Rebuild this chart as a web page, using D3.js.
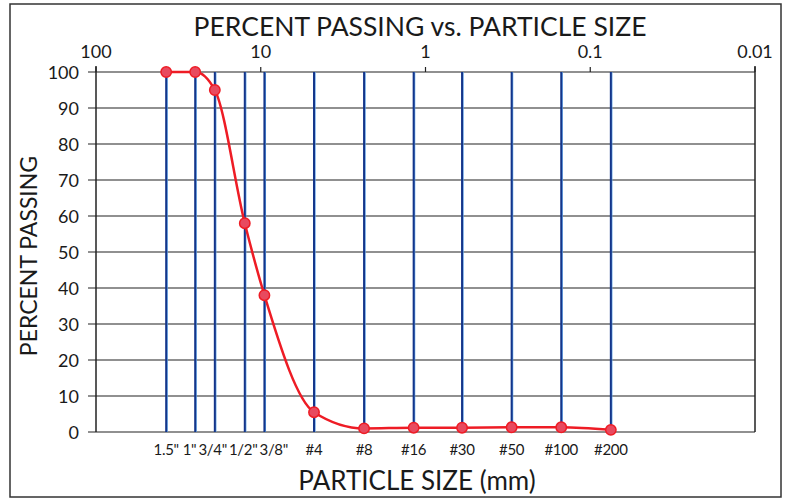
<!DOCTYPE html>
<html><head><meta charset="utf-8">
<script src="https://cdn.jsdelivr.net/npm/d3@7"></script>
<style>body{margin:0;background:#fff}svg{display:block}text{font-family:Lato,"Open Sans",sans-serif;fill:#1a1a1a}</style>
</head><body><svg id="c" width="785" height="500"></svg>
<script>
const sieveLabels = ['1.5"', '1"', '3/4"', '1/2"', '3/8"', '#4', '#8', '#16', '#30', '#50', '#100', '#200'];
const sieveSizes = [37.5, 25, 19, 12.5, 9.5, 4.75, 2.36, 1.18, 0.6, 0.3, 0.15, 0.075];
const percentPassing = [100, 100, 95, 58, 38, 5.5, 1.0, 1.2, 1.2, 1.3, 1.3, 0.6];
const topTicks = [100, 10, 1, 0.1, 0.01];
const topTickLabels = ['100', '10', '1', '0.1', '0.01'];
const yTicks = [0, 10, 20, 30, 40, 50, 60, 70, 80, 90, 100];

const svg = d3.select('#c');
const L = 96, R = 755, T = 72, B = 432;
const x = d3.scaleLog().domain([100, 0.01]).range([L, R]);
const y = d3.scaleLinear().domain([0, 100]).range([B, T]);

svg.append('rect').attr('x', 10).attr('y', 4).attr('width', 771).attr('height', 493)
  .attr('fill', 'none').attr('stroke', '#333').attr('stroke-width', 1.5);

const g = svg.append('g');
g.selectAll('line.h').data(yTicks).join('line')
  .attr('x1', L - 8).attr('x2', R).attr('y1', d => y(d)).attr('y2', d => y(d))
  .attr('stroke', '#222').attr('stroke-width', 1.2);
g.append('line').attr('x1', L).attr('x2', L).attr('y1', T - 6).attr('y2', B).attr('stroke', '#222').attr('stroke-width', 1.5);
g.append('line').attr('x1', R).attr('x2', R).attr('y1', T - 6).attr('y2', B).attr('stroke', '#222').attr('stroke-width', 1.5);
g.selectAll('line.t').data(topTicks).join('line')
  .attr('x1', d => x(d)).attr('x2', d => x(d)).attr('y1', T - 5).attr('y2', T)
  .attr('stroke', '#222').attr('stroke-width', 1.2);
g.selectAll('text.t').data(topTicks).join('text')
  .attr('x', d => x(d)).attr('y', 58).attr('text-anchor', 'middle')
  .attr('font-size', 18).text((d, i) => topTickLabels[i]);
g.selectAll('text.y').data(yTicks).join('text')
  .attr('x', 79).attr('y', d => y(d) + 6.5).attr('text-anchor', 'end')
  .attr('font-size', 18).text(d => d);

const sieves = sieveSizes.map((s, i) => ({s, lab: sieveLabels[i], p: percentPassing[i]}));
g.selectAll('line.s1').data(sieves).join('line')
  .attr('x1', d => x(d.s) + 1).attr('x2', d => x(d.s) + 1).attr('y1', T).attr('y2', B)
  .attr('stroke', '#5aa0e6').attr('stroke-width', 1.2);
g.selectAll('line.s').data(sieves).join('line')
  .attr('x1', d => x(d.s)).attr('x2', d => x(d.s)).attr('y1', T).attr('y2', B)
  .attr('stroke', '#14358a').attr('stroke-width', 2);

// sieve labels with simple collision relaxation
const labs = g.selectAll('text.s').data(sieves).join('text')
  .attr('class', 's').attr('y', 455).attr('text-anchor', 'middle')
  .attr('font-size', 15).attr('letter-spacing', -0.3).text(d => d.lab);
const nodes = [];
labs.each(function(d) { nodes.push({d, el: this, cx: x(d.s), w: this.getComputedTextLength()}); });
for (let it = 0; it < 200; it++) {
  for (let i = 0; i < nodes.length - 1; i++) {
    const a = nodes[i], b = nodes[i + 1];
    const ov = (a.cx + a.w / 2 + 2) - (b.cx - b.w / 2);
    if (ov > 0) { a.cx -= ov / 2; b.cx += ov / 2; }
  }
}
nodes.forEach(n => d3.select(n.el).attr('x', n.cx));

const line = d3.line().x(d => x(d.s)).y(d => y(d.p)).curve(d3.curveMonotoneX);
svg.append('path').datum(sieves).attr('d', line).attr('fill', 'none')
  .attr('stroke', '#ee1c25').attr('stroke-width', 2.5);
svg.selectAll('circle').data(sieves).join('circle')
  .attr('cx', d => x(d.s)).attr('cy', d => y(d.p)).attr('r', 5.2)
  .attr('fill', '#e84a5f').attr('stroke', '#ee1c25').attr('stroke-width', 1.5);

svg.append('text').attr('x', 420).attr('y', 36).attr('text-anchor', 'middle')
  .attr('font-size', 26.5).text('PERCENT PASSING vs. PARTICLE SIZE');
svg.append('text').attr('x', 417).attr('y', 490).attr('text-anchor', 'middle')
  .attr('font-size', 26).text('PARTICLE SIZE (mm)');
svg.append('text').attr('transform', 'translate(37,256) rotate(-90)').attr('text-anchor', 'middle')
  .attr('font-size', 23).text('PERCENT PASSING');
</script></body></html>
